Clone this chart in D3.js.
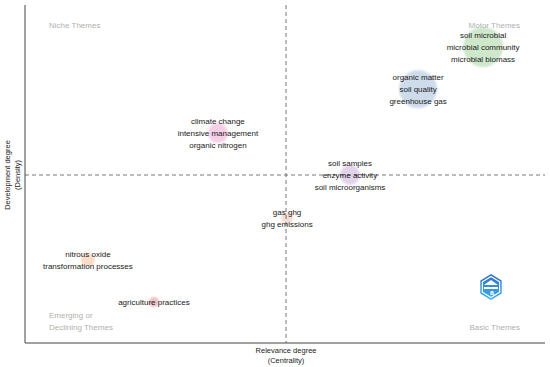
<!DOCTYPE html>
<html><head><meta charset="utf-8">
<script src="https://cdn.jsdelivr.net/npm/d3@7"></script>
<style>html,body{margin:0;padding:0;background:#fff;}svg{display:block;font-family:"Liberation Sans",Arial,sans-serif;}</style>
</head><body>
<script>
// Themes (clusters)
const themeLabels = [
  ["soil microbial","microbial community","microbial biomass"],
  ["organic matter","soil quality","greenhouse gas"],
  ["climate change","intensive management","organic nitrogen"],
  ["soil samples","enzyme activity","soil microorganisms"],
  ["gas ghg","ghg emissions"],
  ["nitrous oxide","transformation processes"],
  ["agriculture practices"]
];
const centrality = [88.1, 75.6, 37.1, 62.5, 50.4, 12.1, 24.8];
const density    = [87.6, 75.1, 62.1, 49.7, 37.0, 24.6, 12.1];
const frequency  = [400, 360, 100, 100, 36, 49, 25];
const colors = ["#cfe8cc","#cddbea","#f6cfe6","#e2d2ec","#f1ddd3","#fbdcc6","#efc0c3"];
const centralityMean = 50.2;
const densityMean = 49.7;
const quadrantLabels = [
  {t:["Niche Themes"], pos:"tl"},
  {t:["Motor Themes"], pos:"tr"},
  {t:["Emerging or","Declining Themes"], pos:"bl"},
  {t:["Basic Themes"], pos:"br"}
];

const W=550,H=367;
const m={l:25,r:5,t:5,b:24};
const svg=d3.select("body").append("svg").attr("width",W).attr("height",H);
const x=d3.scaleLinear().domain([0,100]).range([m.l,W-m.r]);
const y=d3.scaleLinear().domain([0,100]).range([H-m.b,m.t]);
const r=d3.scaleSqrt().domain([0,400]).range([0,20]);

// bubbles
const data=themeLabels.map((l,i)=>({l,c:centrality[i],d:density[i],f:frequency[i],col:colors[i]}));
const defs=svg.append("defs");
const blur=defs.append("filter").attr("id","soft").attr("x","-50%").attr("y","-50%").attr("width","200%").attr("height","200%");
blur.append("feGaussianBlur").attr("stdDeviation",1);

svg.append("g").selectAll("circle").data(data).join("circle")
  .attr("cx",d=>x(d.c)).attr("cy",d=>y(d.d)).attr("r",d=>r(d.f))
  .attr("fill",d=>d.col).attr("filter","url(#soft)");

// mean lines
svg.append("line").attr("x1",x(centralityMean)).attr("x2",x(centralityMean))
  .attr("y1",y(100)).attr("y2",y(0)).attr("stroke","#555").attr("stroke-width",0.8).attr("stroke-dasharray","4,3");
svg.append("line").attr("x1",x(0)).attr("x2",x(100))
  .attr("y1",y(densityMean)).attr("y2",y(densityMean)).attr("stroke","#555").attr("stroke-width",0.8).attr("stroke-dasharray","4,3");

// axes lines
svg.append("line").attr("x1",x(0)).attr("x2",x(0)).attr("y1",y(100)).attr("y2",y(0)).attr("stroke","#444").attr("stroke-width",1);
svg.append("line").attr("x1",x(0)).attr("x2",x(100)).attr("y1",y(0)).attr("y2",y(0)).attr("stroke","#444").attr("stroke-width",1);

// theme labels
const lh=12;
data.forEach(d=>{
  const n=d.l.length;
  d.l.forEach((t,j)=>{
    svg.append("text").attr("x",x(d.c)).attr("y",y(d.d)+(j-(n-1)/2)*lh)
      .attr("dy","0.35em").attr("text-anchor","middle").attr("font-size",8).attr("fill","#1a1a1a").text(t);
  });
});

// quadrant labels
quadrantLabels.forEach(q=>{
  const left=q.pos[1]==="l";
  const top=q.pos[0]==="t";
  const xx= left? 49 : 520;
  q.t.forEach((t,j)=>{
    const yy= top? 25 + j*12 : 327 - (q.t.length-1-j)*12;
    svg.append("text").attr("x",xx).attr("y",yy).attr("dy","0.35em")
      .attr("text-anchor",left?"start":"end").attr("font-size",8).attr("fill","#b0b0b0").text(t);
  });
});

// axis titles
const xt=svg.append("text").attr("text-anchor","middle").attr("font-size",7.5).attr("fill","#222");
xt.append("tspan").attr("x",x(centralityMean)).attr("y",353).text("Relevance degree");
xt.append("tspan").attr("x",x(centralityMean)).attr("y",363).text("(Centrality)");
const yt=svg.append("text").attr("text-anchor","middle").attr("font-size",7.5).attr("fill","#222")
  .attr("transform",`translate(0,${y(densityMean)}) rotate(-90)`);
yt.append("tspan").attr("x",0).attr("y",10).text("Development degree");
yt.append("tspan").attr("x",0).attr("y",20).text("(Density)");

// logo (hexagon badge)
const lg=svg.append("g").attr("transform","translate(491,287)");
const grad=defs.append("linearGradient").attr("id","lgrad").attr("x1",0).attr("y1",0).attr("x2",0).attr("y2",1);
grad.append("stop").attr("offset","0%").attr("stop-color","#2f6fc4");
grad.append("stop").attr("offset","100%").attr("stop-color","#3fb0f0");
const hex=(R)=>d3.range(6).map(i=>{const a=Math.PI/3*i-Math.PI/2;return [R*Math.cos(a)*0.95,R*Math.sin(a)];});
lg.append("path").attr("d",d3.line()(hex(13))+"Z").attr("fill","url(#lgrad)");
lg.append("path").attr("d",d3.line()(hex(10.5))+"Z").attr("fill","none").attr("stroke","#fff").attr("stroke-width",1.2);
lg.append("path").attr("d","M-7,-2 L0,-7 L7,-2 Z").attr("fill","#fff");
lg.append("rect").attr("x",-7).attr("y",0).attr("width",14).attr("height",2).attr("fill","#fff");
lg.append("text").attr("x",1).attr("y",8).attr("text-anchor","middle").attr("font-size",7).attr("font-weight","bold").attr("fill","#fff").text("a");
</script>
</body></html>
